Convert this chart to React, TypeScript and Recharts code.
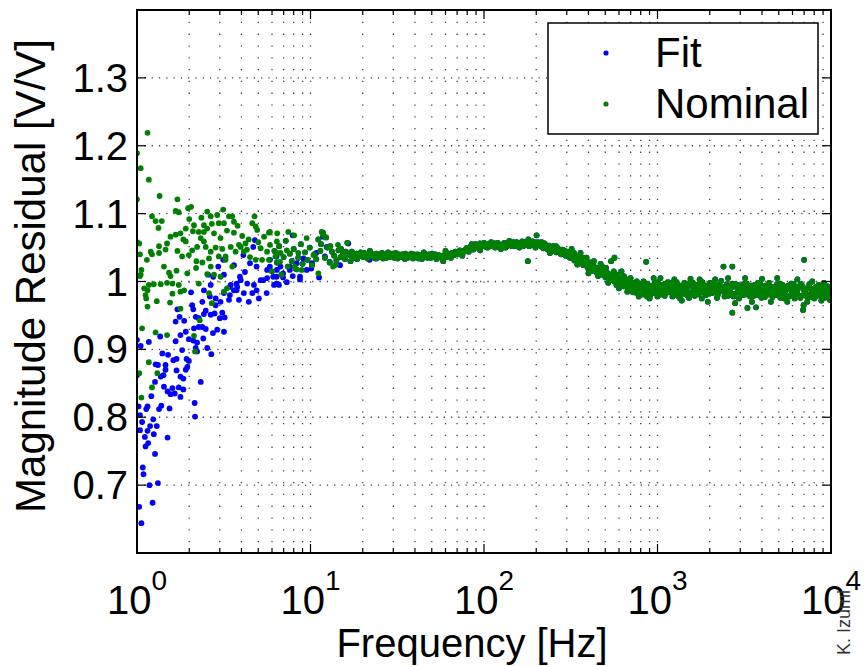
import React from 'react';
import { ScatterChart, Scatter, XAxis, YAxis, CartesianGrid } from 'recharts';

const FIT_COLOR = '#0000ff';
const NOM_COLOR = '#008000';
const FONT = '"Liberation Sans", Arial, Helvetica, sans-serif';

const X_MIN = 1;
const X_MAX = 10000;
const Y_MIN = 0.6;
const Y_MAX = 1.4;

const xMajorTicks = [1, 10, 100, 1000, 10000];
const xTickExponents = ['0', '1', '2', '3', '4'];
const xMinorTicks = [
  2, 3, 4, 5, 6, 7, 8, 9,
  20, 30, 40, 50, 60, 70, 80, 90,
  200, 300, 400, 500, 600, 700, 800, 900,
  2000, 3000, 4000, 5000, 6000, 7000, 8000, 9000,
];
const yTicks = [0.7, 0.8, 0.9, 1, 1.1, 1.2, 1.3];
const yTickLabels = ['0.7', '0.8', '0.9', '1', '1.1', '1.2', '1.3'];

// [frequency Hz, magnitude residual]
const fitLow: [number, number][] = [
  [1.0, 0.914], [1.05, 0.905], [1.17, 0.911], [1.36, 0.919], [1.0, 0.862], [1.02, 0.816], [1.04, 0.803],
  [1.13, 0.812], [1.07, 0.793], [1.19, 0.787], [1.3, 0.787], [1.24, 0.797], [1.04, 0.781], [1.15, 0.78],
  [1.25, 0.775], [1.11, 0.771], [1.16, 0.762], [1.12, 0.757], [1.5, 0.77], [1.27, 0.746], [1.08, 0.726],
  [1.09, 0.716], [1.18, 0.7], [1.32, 0.703], [1.03, 0.668], [1.23, 0.674], [1.06, 0.644], [1.15, 0.816],
  [1.21, 0.831], [1.38, 0.817], [1.34, 0.812], [1.54, 0.813], [1.27, 0.852], [1.43, 0.845], [1.5, 0.838],
  [1.6, 0.843], [1.56, 0.834], [1.65, 0.835], [1.78, 0.83], [1.85, 0.841], [1.74, 0.844], [1.37, 0.86],
  [1.42, 0.862], [1.46, 0.87], [1.69, 0.869], [1.78, 0.86], [1.85, 0.857], [1.91, 0.87], [1.95, 0.874],
  [2.33, 0.852], [2.15, 0.821], [2.16, 0.801], [1.28, 0.878], [1.32, 0.877], [1.46, 0.877], [1.51, 0.892],
  [1.4, 0.894], [1.62, 0.884], [1.69, 0.886], [1.93, 0.886], [1.99, 0.883], [1.82, 0.899], [1.67, 0.912],
  [1.78, 0.921], [1.91, 0.926], [1.99, 0.915], [2.11, 0.913], [2.22, 0.91], [2.18, 0.902], [2.22, 0.897],
  [2.54, 0.902], [2.68, 0.893], [2.41, 0.916], [2.13, 0.931], [2.27, 0.933], [2.38, 0.933], [2.49, 0.93],
  [2.74, 0.924], [2.9, 0.929], [3.17, 0.926], [1.67, 0.941], [1.76, 0.948], [1.87, 0.942], [2.18, 0.948],
  [2.27, 0.946], [2.43, 0.952], [2.66, 0.951], [2.8, 0.953], [3.0, 0.946], [3.1, 0.954], [3.2, 0.947],
  [1.71, 0.959], [2.11, 0.959], [2.49, 0.957], [2.08, 0.965], [2.38, 0.97], [2.84, 0.965], [3.03, 0.97],
  [2.05, 0.984], [2.43, 0.987], [2.63, 0.978], [2.84, 0.975], [2.66, 0.995], [3.17, 0.983], [3.39, 0.973],
  [3.47, 0.995], [3.62, 0.987], [3.87, 0.973], [4.13, 0.983], [4.41, 0.97], [4.62, 0.983], [5.04, 0.975],
  [3.78, 0.992], [3.96, 1.002], [4.32, 0.997], [4.72, 0.995], [3.17, 1.01], [3.62, 1.024], [5.16, 1.002],
  [5.62, 1.005], [6.16, 0.995], [6.58, 0.995], [5.62, 1.017], [6.72, 1.022], [3.43, 0.992], [3.75, 0.997],
  [3.92, 1.007], [4.19, 1.014], [4.48, 1.027], [4.68, 1.051], [4.78, 1.061], [4.89, 1.022], [5.34, 1.002],
  [5.83, 1.022], [6.37, 0.997], [6.95, 1.012], [7.62, 1.022], [8.32, 1.027], [9.1, 1.034], [10.2, 1.027],
  [10.8, 1.042], [11.8, 1.066], [12.4, 1.051], [7.9, 1.068], [6.37, 1.037], [4.1, 1.039], [3.14, 1.032],
  [2.94, 1.022], [2.75, 1.007], [2.57, 1.01], [3.43, 0.98], [3.75, 0.987], [4.89, 0.987], [5.59, 0.983],
  [6.37, 1.007], [8.7, 1.007], [7.3, 0.999], [5.84, 1.032], [6.1, 1.007], [6.5, 0.996], [6.95, 1.006],
  [7.9, 1.008], [8.7, 1.003], [9.5, 1.017], [10.1, 1.019], [11.2, 1.006], [7.6, 1.017], [6.4, 1.017],
  [12.1, 1.037], [12.9, 1.029], [14.8, 1.024], [16.5, 1.056], [18.4, 1.034], [21.9, 1.032], [24.0, 1.034],
];

const nominalLow: [number, number][] = [
  [1.15, 1.219], [1.0, 1.189], [1.05, 1.167], [1.17, 1.15], [1.0, 1.121], [1.35, 1.126], [1.71, 1.121],
  [1.67, 1.104], [1.74, 1.102], [1.97, 1.108], [2.05, 1.11], [1.22, 1.096], [1.28, 1.089], [1.39, 1.089],
  [1.33, 1.079], [2.54, 1.103], [2.9, 1.098], [3.14, 1.106], [2.66, 1.096], [3.39, 1.096], [3.54, 1.096],
  [3.62, 1.088], [4.76, 1.096], [2.96, 1.086], [3.17, 1.086], [2.54, 1.078], [2.43, 1.083], [2.13, 1.083],
  [1.91, 1.078], [2.27, 1.073], [2.43, 1.073], [2.78, 1.071], [1.56, 1.066], [1.67, 1.069], [1.78, 1.071],
  [2.1, 1.074], [2.33, 1.064], [2.43, 1.059], [3.03, 1.064], [3.62, 1.072], [4.04, 1.067], [4.62, 1.086],
  [4.83, 1.081], [4.93, 1.076], [5.76, 1.072], [6.43, 1.071], [1.03, 1.056], [1.49, 1.056], [1.91, 1.059],
  [1.34, 1.052], [1.04, 1.04], [1.2, 1.044], [1.22, 1.04], [1.34, 1.042], [1.46, 1.047], [1.71, 1.045],
  [1.82, 1.037], [1.99, 1.039], [2.08, 1.046], [2.22, 1.051], [2.49, 1.051], [2.66, 1.044], [2.84, 1.05],
  [2.96, 1.037], [3.24, 1.037], [3.47, 1.051], [3.96, 1.051], [4.22, 1.056], [5.16, 1.049], [5.62, 1.044],
  [1.14, 1.032], [1.06, 1.017], [1.04, 1.008], [1.43, 1.022], [1.53, 1.013], [1.69, 1.016], [1.95, 1.012],
  [2.19, 1.02], [2.38, 1.028], [2.66, 1.022], [2.78, 1.01], [1.56, 1.008], [2.54, 1.011], [3.03, 1.007],
  [3.24, 1.032], [3.54, 1.022], [3.87, 1.054], [4.13, 1.044], [4.48, 1.036], [4.83, 1.032], [5.26, 1.032],
  [5.76, 1.032], [6.28, 1.037], [6.72, 1.042], [1.1, 0.99], [1.17, 0.995], [1.25, 0.996], [1.37, 0.996],
  [1.49, 0.998], [1.6, 0.997], [1.74, 0.995], [1.87, 0.987], [1.6, 0.982], [1.78, 0.985], [2.27, 0.997],
  [3.17, 0.985], [1.12, 0.98], [1.05, 1.01], [1.15, 0.987], [1.13, 0.975], [1.15, 0.963], [1.3, 0.971],
  [1.55, 0.969], [1.78, 0.96], [1.07, 0.931], [1.28, 0.925], [1.49, 0.921], [2.3, 0.943], [2.13, 0.92],
  [2.16, 0.897], [1.17, 0.881], [1.03, 0.865], [1.31, 0.865], [1.22, 0.844], [1.06, 0.829], [2.7, 0.968],
  [3.3, 0.99], [2.6, 0.983], [5.84, 1.073], [7.45, 1.073], [8.05, 1.068], [6.4, 1.059], [9.5, 1.064],
  [11.6, 1.073], [11.9, 1.068], [5.84, 1.054], [6.67, 1.029], [8.1, 1.022], [8.9, 1.017], [6.4, 1.042],
  [7.3, 1.046], [8.5, 1.042], [10.4, 1.039], [11.1, 1.012], [13.5, 1.022], [14.4, 1.054], [1.0, 1.058],
  [1.85, 1.062], [2.0, 1.092], [2.35, 1.094], [2.7, 1.085], [3.3, 1.075], [3.8, 1.082], [4.4, 1.062],
  [5.0, 1.058], [5.4, 1.066], [4.3, 1.047], [3.7, 1.044], [3.1, 1.048], [2.6, 1.034], [2.2, 1.03],
];

// above ~6 Hz the fit and nominal residuals coincide
const sharedBand: [number, number][] = [
  [6.0, 1.015], [6.2, 1.045], [6.4, 1.028], [6.6, 1.052], [6.8, 1.01], [7.0, 1.036], [7.2, 1.06],
  [7.4, 1.022], [7.6, 1.041], [7.8, 1.03], [8.0, 1.048], [8.3, 1.018], [8.5, 1.035], [8.8, 1.055],
  [9.0, 1.026], [9.3, 1.043], [9.6, 1.032], [9.9, 1.05], [10.2, 1.024], [10.5, 1.04], [10.8, 1.033],
  [11.1, 1.062], [11.4, 1.045], [11.8, 1.072], [12.1, 1.035], [12.5, 1.05], [12.9, 1.028], [13.3, 1.044],
  [13.7, 1.038], [14.1, 1.031], [14.5, 1.046], [14.9, 1.036], [15.4, 1.041], [15.8, 1.033], [16.3, 1.057],
  [16.8, 1.039], [17.3, 1.044], [17.8, 1.035], [18.4, 1.041], [18.9, 1.037], [19.5, 1.043], [20.1, 1.036],
  [20.7, 1.04], [21.3, 1.034], [21.9, 1.042], [22.6, 1.038], [23.3, 1.035], [24.0, 1.041], [24.7, 1.037],
  [25.4, 1.039], [26.2, 1.034], [27.0, 1.04], [27.8, 1.037], [28.6, 1.036], [29.5, 1.041], [30.4, 1.035],
  [31.3, 1.038], [32.2, 1.04], [33.2, 1.036], [34.2, 1.037], [35.2, 1.041], [36.3, 1.035], [37.4, 1.038],
  [38.5, 1.036], [39.6, 1.04], [40.8, 1.037], [42.0, 1.034], [43.3, 1.039], [44.6, 1.036], [45.9, 1.04],
  [47.3, 1.035], [48.7, 1.038], [50.2, 1.041], [51.7, 1.036], [53.2, 1.033], [54.8, 1.039], [56.5, 1.037],
  [58.2, 1.03], [59.9, 1.036], [61.7, 1.04], [63.6, 1.038], [65.5, 1.042], [67.4, 1.039], [69.5, 1.043],
  [71.5, 1.041], [73.7, 1.045], [75.9, 1.043], [78.2, 1.047], [80.5, 1.046], [82.9, 1.05], [85.4, 1.049],
  [88.0, 1.052], [90.6, 1.05], [93.3, 1.054], [96.1, 1.051], [99.0, 1.055], [102, 1.053], [105, 1.05],
  [108, 1.054], [111, 1.052], [115, 1.056], [118, 1.051], [122, 1.054], [125, 1.052], [129, 1.055],
  [133, 1.05], [137, 1.053], [141, 1.057], [145, 1.052], [150, 1.055], [154, 1.058], [159, 1.053],
  [164, 1.056], [168, 1.052], [173, 1.058], [179, 1.03], [184, 1.055], [190, 1.059], [195, 1.053],
  [201, 1.068], [207, 1.056], [213, 1.052], [220, 1.049], [226, 1.054], [233, 1.047], [240, 1.051],
  [247, 1.045], [255, 1.049], [262, 1.043], [270, 1.046], [278, 1.04], [287, 1.044], [295, 1.038],
  [304, 1.041], [313, 1.035], [323, 1.039], [332, 1.031], [342, 1.034], [353, 1.027], [363, 1.031],
  [374, 1.024], [385, 1.028], [397, 1.02], [409, 1.024], [421, 1.016], [434, 1.021], [447, 1.013],
  [460, 1.018], [474, 1.01], [488, 1.015], [503, 1.006], [518, 1.012], [533, 1.003], [549, 1.009],
  [566, 1.0], [583, 1.006], [600, 0.997], [618, 1.004], [637, 0.993], [656, 1.001], [676, 0.99],
  [696, 0.998], [717, 0.987], [738, 0.996], [760, 0.983], [783, 0.994], [807, 0.989], [831, 1.0],
  [856, 0.985], [881, 0.995], [908, 0.98], [935, 0.992], [963, 0.998], [992, 0.986], [1020, 0.994],
  [1050, 0.981], [1080, 0.99], [1120, 0.997], [1150, 0.984], [1180, 0.993], [1220, 0.978], [1260, 0.991],
  [1290, 0.999], [1330, 0.985], [1370, 0.994], [1410, 0.982], [1450, 0.99], [1500, 0.997], [1540, 0.983],
  [1590, 0.992], [1640, 0.979], [1690, 0.989], [1740, 0.996], [1790, 0.984], [1840, 0.993], [1900, 0.98],
  [1950, 0.988], [2010, 0.998], [2070, 0.983], [2130, 0.991], [2200, 0.976], [2260, 0.987], [2330, 1.001],
  [2400, 0.985], [2470, 0.993], [2550, 0.979], [2620, 0.988], [2700, 0.997], [2780, 0.982], [2870, 0.991],
  [2950, 0.975], [3040, 0.986], [3130, 0.996], [3230, 0.981], [3320, 0.99], [3420, 0.978], [3530, 0.988],
  [3630, 0.995], [3740, 0.98], [3850, 0.989], [3970, 0.976], [4090, 0.987], [4210, 0.994], [4340, 0.981],
  [4470, 0.99], [4600, 0.977], [4740, 0.986], [4880, 0.996], [5030, 0.983], [5180, 0.991], [5330, 0.978],
  [5490, 0.987], [5660, 0.994], [5830, 0.98], [6000, 0.989], [6180, 0.975], [6370, 0.985], [6560, 0.993],
  [6760, 0.979], [6960, 0.988], [7170, 0.982], [7380, 0.99], [7600, 0.977], [7830, 0.986], [8070, 0.981],
  [8310, 0.989], [8560, 0.983], [8810, 0.979], [9080, 0.987], [9350, 0.982], [9630, 0.985], [9920, 0.98],
];

const sharedExtra: [number, number][] = [
  [11.5, 1.055], [12.3, 1.065], [13.0, 1.052], [14.0, 1.025], [15.0, 1.048], [17.0, 1.03], [22.0, 1.045],
  [28.0, 1.043], [35.0, 1.033], [45.0, 1.043], [60.0, 1.045], [75.0, 1.038], [85.0, 1.055], [95.0, 1.046],
  [110, 1.058], [125, 1.048], [140, 1.06], [160, 1.05], [180, 1.062], [195, 1.058], [215, 1.058],
  [240, 1.042], [260, 1.052], [290, 1.046], [330, 1.042], [370, 1.035], [410, 1.028], [440, 1.02],
  [480, 1.022], [500, 1.016], [530, 1.008], [540, 1.03], [565, 1.035], [580, 0.995], [620, 1.015],
  [650, 0.995], [680, 1.003], [700, 1.005], [740, 0.99], [760, 1.0], [800, 0.996], [860, 1.029],
  [900, 0.975], [1000, 0.978], [1100, 0.985], [1150, 0.999], [1200, 0.992], [1300, 0.988], [1350, 0.975],
  [1480, 0.98], [1600, 0.998], [1700, 0.985], [1800, 0.975], [2000, 0.99], [2100, 0.984], [2240, 0.995],
  [2400, 1.022], [2500, 0.99], [2700, 1.022], [2700, 0.954], [2900, 0.995], [3000, 0.988], [3100, 0.98],
  [3300, 0.961], [3450, 0.994], [3600, 0.985], [3700, 0.962], [3900, 0.996], [4150, 0.982], [4300, 0.988],
  [4400, 0.998], [4700, 0.98], [5100, 0.997], [5200, 0.986], [5400, 0.975], [5900, 0.997], [6100, 0.992],
  [6300, 0.978], [6700, 0.996], [6900, 0.958], [6950, 0.965], [7000, 1.032], [7100, 0.98], [7500, 0.996],
  [8000, 0.975], [8200, 0.992], [8500, 0.995], [9200, 0.976], [9500, 0.993], [9700, 0.99], [9990, 0.983],
  [320, 1.048], [345, 1.025], [360, 1.042], [390, 1.035], [400, 1.012], [430, 1.03], [455, 1.008],
  [470, 1.026], [505, 1.02], [520, 0.998], [560, 1.015], [590, 1.01], [600, 0.99], [640, 1.008],
  [670, 0.985], [720, 0.998], [780, 0.978], [830, 0.99], [870, 0.978], [950, 1.005], [1040, 1.005],
  [1250, 1.003], [1380, 0.972], [1550, 1.004], [1750, 1.003], [1950, 0.97], [2150, 1.003], [2550, 1.005],
  [2800, 0.968], [3200, 1.005], [3500, 0.97], [4000, 1.004], [4500, 0.97], [4900, 1.005], [5600, 0.97],
  [6400, 1.003], [7300, 0.97], [7800, 1.0], [8800, 0.972], [9100, 0.998], [9850, 0.973],
];

const sharedDense: [number, number][] = [
  [15.6, 1.036], [16.0, 1.044], [17.5, 1.04], [18.6, 1.033], [19.2, 1.039], [20.4, 1.042], [21.0, 1.037],
  [23.0, 1.04], [23.7, 1.034], [25.0, 1.036], [25.8, 1.042], [26.6, 1.038], [27.4, 1.035], [29.0, 1.039],
  [30.0, 1.037], [30.9, 1.042], [31.8, 1.034], [32.7, 1.038], [33.7, 1.04], [34.7, 1.035], [35.8, 1.039],
  [36.9, 1.037], [38.0, 1.041], [39.0, 1.034], [40.2, 1.038], [41.4, 1.04], [42.6, 1.036], [43.9, 1.033],
  [45.2, 1.038], [46.6, 1.037], [48.0, 1.04], [49.4, 1.035], [51.0, 1.038], [52.4, 1.04], [54.0, 1.036],
  [55.6, 1.038], [57.3, 1.034], [59.0, 1.039], [60.8, 1.036], [62.6, 1.041], [64.5, 1.035], [66.4, 1.04],
  [68.4, 1.044], [70.5, 1.04], [72.6, 1.046], [74.8, 1.042], [77.0, 1.045], [79.3, 1.049], [81.7, 1.044],
  [84.1, 1.052], [86.7, 1.047], [89.3, 1.055], [92.0, 1.05], [94.7, 1.056], [97.5, 1.052],
  [100, 1.057], [103, 1.051], [106, 1.055], [113, 1.053], [116, 1.05], [120, 1.057], [127, 1.054],
  [131, 1.057], [135, 1.052], [139, 1.055], [143, 1.054], [147, 1.058], [152, 1.052], [157, 1.056],
  [162, 1.054], [166, 1.059], [171, 1.054], [176, 1.056], [182, 1.052], [187, 1.057], [193, 1.055],
  [198, 1.05], [204, 1.058], [210, 1.054], [217, 1.051], [223, 1.056], [230, 1.05], [237, 1.053],
  [244, 1.048], [251, 1.052], [259, 1.046], [266, 1.049], [274, 1.043], [282, 1.047], [291, 1.041],
  [300, 1.044], [309, 1.038], [318, 1.042], [327, 1.035], [337, 1.038], [348, 1.03], [358, 1.035],
  [369, 1.027], [380, 1.031], [391, 1.023], [403, 1.027], [415, 1.019], [428, 1.023], [441, 1.015],
  [454, 1.02], [467, 1.011], [481, 1.016], [496, 1.008], [511, 1.013], [526, 1.004], [541, 1.01],
  [558, 1.001], [575, 1.007], [592, 0.997], [610, 1.002], [628, 0.995], [647, 0.999], [666, 0.992],
  [686, 0.997], [705, 0.992], [727, 0.984], [749, 0.997], [771, 0.988], [795, 0.993], [819, 0.981],
  [843, 0.99], [868, 0.997], [894, 0.986], [921, 0.993], [949, 0.983], [977, 0.991], [1006, 0.999],
  [1035, 0.987], [1065, 0.995], [1100, 0.979], [1135, 0.991], [1165, 0.987], [1200, 0.998], [1240, 0.984],
  [1275, 0.995], [1310, 0.979], [1350, 0.991], [1390, 0.986], [1430, 0.998], [1475, 0.988], [1520, 0.976],
  [1565, 0.994], [1615, 0.986], [1665, 0.995], [1715, 0.981], [1765, 0.991], [1815, 0.999], [1870, 0.986],
  [1925, 0.994], [1980, 0.982], [2040, 0.992], [2100, 0.997], [2165, 0.985], [2230, 0.981], [2295, 0.993],
  [2365, 0.988], [2435, 0.978], [2510, 0.996], [2585, 0.985], [2660, 0.991], [2740, 0.978], [2820, 0.996],
  [2910, 0.987], [2995, 0.982], [3085, 0.993], [3180, 0.986], [3275, 0.997], [3370, 0.984], [3475, 0.992],
  [3580, 0.979], [3685, 0.99], [3795, 0.998], [3910, 0.984], [4030, 0.993], [4150, 0.977], [4275, 0.989],
  [4405, 0.996], [4535, 0.985], [4670, 0.992], [4810, 0.98], [4955, 0.99], [5105, 0.976], [5255, 0.995],
  [5410, 0.984], [5575, 0.991], [5745, 0.978], [5915, 0.987], [6090, 0.996], [6275, 0.983], [6465, 0.99],
  [6660, 0.976], [6860, 0.993], [7065, 0.985], [7275, 0.978], [7490, 0.992], [7715, 0.983], [7950, 0.989],
  [8190, 0.978], [8435, 0.99], [8685, 0.985], [8945, 0.993], [9215, 0.979], [9490, 0.988], [9775, 0.984],
  [9950, 0.99],
];

const toPoints = (rows: [number, number][]) => rows.map(([f, m]) => ({ f, m }));
const fitData = toPoints([...fitLow, ...sharedBand, ...sharedExtra, ...sharedDense]);
const nominalData = toPoints([...nominalLow, ...sharedBand, ...sharedExtra, ...sharedDense]);
const xTicks = [...xMajorTicks, ...xMinorTicks].sort((a, b) => a - b);

const W = 866;
const H = 666;
const PLOT_TOP = 10;
const PLOT_BOTTOM = 113;
const PLOT_LEFT = 137;
const PLOT_RIGHT = 35;
const plotH = H - PLOT_TOP - PLOT_BOTTOM;
const plotW = W - PLOT_LEFT - PLOT_RIGHT;

const makeDot = (color: string) => (props: any) => {
  if (props.cx == null || props.cy == null) return <g />;
  return <circle cx={props.cx} cy={props.cy} r={2.9} fill={color} />;
};
const fitDot = makeDot(FIT_COLOR);
const nominalDot = makeDot(NOM_COLOR);

// bottom axis tick: inward tick at bottom, mirrored inward tick at top, and label
const BottomTick = (props: any) => {
  const { x, y, payload } = props;
  const idx = xMajorTicks.indexOf(payload.value);
  const major = idx >= 0;
  const len = major ? 9 : 5;
  const top = y - plotH;
  return (
    <g>
      <rect x={x - 0.6} y={y - len} width={1.2} height={len} fill="#000" />
      <rect x={x - 0.6} y={top} width={1.2} height={len} fill="#000" />
      {major && (
        <text x={x} y={y + 61} textAnchor="middle" fontFamily={FONT} fontSize={40} fill="#000">
          <tspan>10</tspan>
          <tspan dy={-24} fontSize={28}>{xTickExponents[idx]}</tspan>
        </text>
      )}
    </g>
  );
};

const LeftTick = (props: any) => {
  const { x, y, payload } = props;
  const idx = yTicks.indexOf(payload.value);
  const right = x + plotW;
  return (
    <g>
      <rect x={x} y={y - 0.6} width={9} height={1.2} fill="#000" />
      <rect x={right - 9} y={y - 0.6} width={9} height={1.2} fill="#000" />
      <text x={x - 9} y={y + 14} textAnchor="end" fontFamily={FONT} fontSize={40} fill="#000">
        {idx >= 0 ? yTickLabels[idx] : ''}
      </text>
    </g>
  );
};

export default function App() {
  return (
    <div style={{ position: 'absolute', left: 0, top: 0, width: W, height: H, background: '#fff' }}>
      <ScatterChart
        width={W}
        height={H}
        margin={{ top: PLOT_TOP, right: PLOT_RIGHT, bottom: 0, left: 0 }}
      >
        <CartesianGrid horizontal={false} stroke="#444" strokeWidth={1.3} strokeDasharray="1.3 10.5" />
        <CartesianGrid vertical={false} stroke="#444" strokeWidth={1.3} strokeDasharray="1.3 6" />
        <XAxis
          dataKey="f"
          type="number"
          scale="log"
          domain={[X_MIN, X_MAX]}
          allowDataOverflow
          ticks={xTicks}
          interval={0}
          height={PLOT_BOTTOM}
          tickSize={0}
          tickMargin={0}
          tickLine={false}
          tick={BottomTick}
          axisLine={{ stroke: '#000', strokeWidth: 2 }}
        />
        <YAxis
          dataKey="m"
          type="number"
          domain={[Y_MIN, Y_MAX]}
          allowDataOverflow
          ticks={yTicks}
          interval={0}
          width={PLOT_LEFT}
          tickSize={0}
          tickMargin={0}
          tickLine={false}
          tick={LeftTick}
          axisLine={{ stroke: '#000', strokeWidth: 2 }}
        />
        <Scatter name="Fit" data={fitData} dataKey="m" fill={FIT_COLOR} shape={fitDot} isAnimationActive={false} />
        <Scatter name="Nominal" data={nominalData} dataKey="m" fill={NOM_COLOR} shape={nominalDot} isAnimationActive={false} />
      </ScatterChart>
      {/* axes box: top and right edges */}
      <div
        style={{
          position: 'absolute',
          left: PLOT_LEFT - 1,
          top: PLOT_TOP - 1,
          width: plotW + 2,
          height: plotH + 2,
          boxSizing: 'border-box',
          border: '2px solid #000',
          pointerEvents: 'none',
        }}
      />
      <svg
        width={W}
        height={H}
        style={{ position: 'absolute', left: 0, top: 0, pointerEvents: 'none' }}
      >
        <text x={472} y={657} textAnchor="middle" fontFamily={FONT} fontSize={40} fill="#000">
          Frequency [Hz]
        </text>
        <text
          x={45}
          y={276}
          textAnchor="middle"
          fontFamily={FONT}
          fontSize={42}
          fill="#000"
          transform="rotate(-90 45 276)"
        >
          Magnitude Residual [V/V]
        </text>
        <rect x={548} y={23} width={270} height={111} fill="#fff" stroke="#000" strokeWidth={1.5} />
        <circle cx={606} cy={53} r={2.6} fill={FIT_COLOR} />
        <text x={655} y={66.5} fontFamily={FONT} fontSize={42} fill="#000">Fit</text>
        <circle cx={606} cy={104} r={2.6} fill={NOM_COLOR} />
        <text x={655} y={118} fontFamily={FONT} fontSize={42} fill="#000">Nominal</text>
        <text
          x={850}
          y={590}
          textAnchor="end"
          fontFamily={FONT}
          fontSize={18}
          fill="#333"
          transform="rotate(-90 850 590)"
        >
          K. Izumi
        </text>
      </svg>
    </div>
  );
}
